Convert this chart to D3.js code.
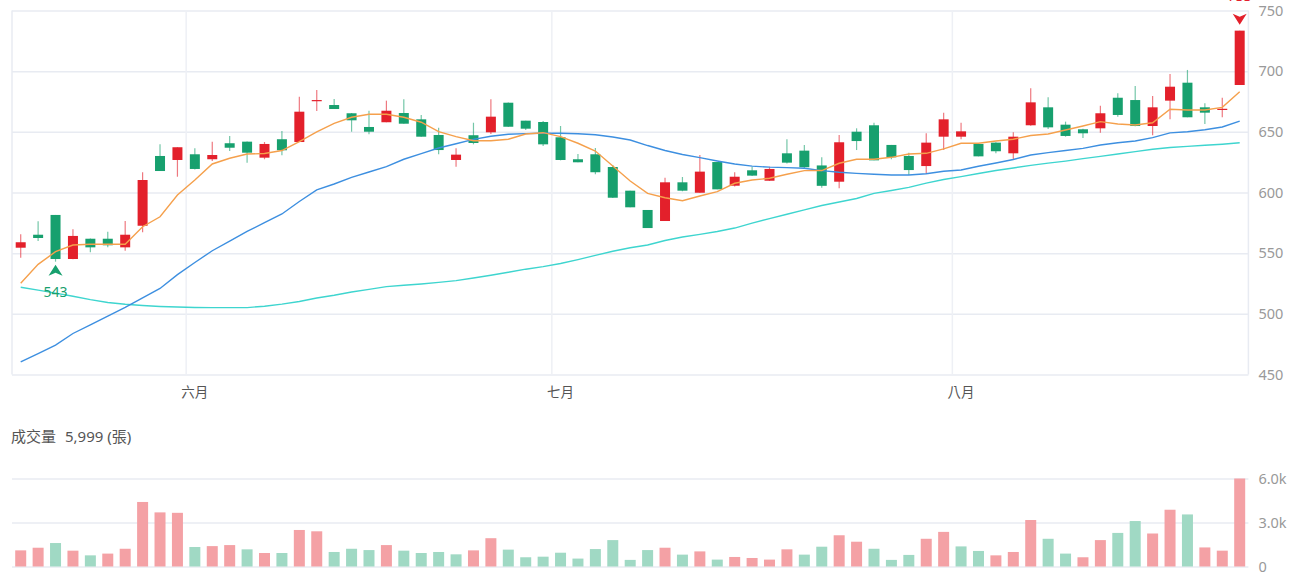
<!DOCTYPE html>
<html>
<head>
<meta charset="utf-8">
<script src="https://cdn.jsdelivr.net/npm/d3@7"></script>
<style>
  body { margin: 0; background: #fff; }
  svg { display: block; }
  text { font-family: "Noto Sans", "Noto Sans CJK TC", sans-serif; }
</style>
</head>
<body>
<div id="chart"></div>
<script>
// Data
const days = d3.range(71)

const open = [554.5,565.2,581.5,545.2,561.9,561.9,554.8,572.6,630.1,626.8,
  631.5,627.4,640.6,641.9,628.7,643.9,641.6,675.5,672.1,665.3,
  654.0,657.9,665.5,660.3,647.4,626.8,647.2,649.6,674.0,659.2,
  658.1,645.5,627.4,631.5,621.0,601.5,585.6,576.5,608.4,599.8,
  625.1,605.6,618.3,609.7,632.3,634.5,622.3,608.9,650.1,655.4,
  639.2,630.1,621.8,646.0,646.0,640.0,641.1,632.3,655.4,670.2,
  655.9,652.1,652.9,678.1,676.2,654.8,675.7,690.5,670.2,668.3,
  688.6]
const high = [565.6,576.3,581.5,569.7,562.0,567.7,576.5,616.7,639.7,637.3,
  636.4,641.9,646.6,642.0,641.6,650.7,679.0,684.5,677.1,665.5,
  667.4,675.7,676.8,663.9,653.4,636.4,657.5,676.8,674.2,659.2,
  659.0,654.8,631.7,636.7,622.7,601.5,585.6,612.2,612.8,630.9,
  625.1,616.7,621.3,621.3,643.9,639.2,629.0,647.4,652.9,657.5,
  639.2,632.8,648.8,665.8,657.5,640.0,641.5,649.6,685.9,678.5,
  658.4,652.5,671.5,681.8,687.8,679.5,697.7,701.0,673.5,678.1,
  733.4]
const low = [546.3,560.0,543.0,545.0,550.7,554.8,552.0,567.2,617.7,613.0,
  619.0,626.0,634.2,624.6,627.4,630.7,641.6,667.2,668.8,650.1,
  648.0,657.9,656.7,646.0,631.5,621.3,639.7,648.2,654.0,651.5,
  638.3,626.5,624.9,615.0,595.5,587.8,570.7,576.5,601.0,599.8,
  602.6,605.0,613.5,609.5,624.0,620.0,604.0,603.5,635.0,626.5,
  627.4,614.4,615.3,635.0,643.9,629.8,632.3,626.8,655.0,652.3,
  646.0,644.9,649.3,662.5,654.5,647.2,660.3,662.0,656.5,662.0,
  688.6]
const close = [559.0,562.5,545.2,564.2,554.8,556.5,565.2,610.3,617.7,637.3,
  619.4,630.9,636.9,632.8,640.0,634.8,666.6,676.2,668.8,659.5,
  650.1,667.4,656.7,646.0,635.0,631.2,640.8,662.5,654.2,652.6,
  639.7,626.8,624.9,616.7,595.7,587.8,570.7,608.4,601.5,617.2,
  602.6,613.0,613.9,619.4,624.6,620.8,605.5,641.4,642.4,626.5,
  629.0,618.5,641.1,660.3,650.4,629.8,634.0,646.0,674.3,653.7,
  646.6,648.8,665.3,663.9,654.8,670.2,687.2,662.0,665.8,669.0,
  733.4]

const ma5 = [525.2,540.8,551.2,556.7,557.3,557.3,557.3,571.8,580.0,597.9,
  610.3,623.5,628.2,631.7,632.1,634.6,642.0,649.9,656.9,662.0,
  664.5,664.5,662.0,657.9,650.1,646.0,642.7,642.7,643.9,648.2,
  649.3,646.0,640.6,634.2,621.8,609.5,599.3,595.7,593.2,597.1,
  600.7,607.6,610.3,611.7,615.0,618.0,618.1,624.1,627.4,627.4,
  629.0,631.7,632.3,635.9,640.6,640.6,642.4,643.9,647.0,648.2,
  651.5,654.8,658.4,656.5,655.6,657.5,668.6,668.0,668.0,670.2,
  683.1]
const ma20 = [460.5,467.3,474.3,483.8,491.0,498.2,505.3,513.2,520.9,532.3,
  542.3,552.0,560.0,567.9,575.1,582.3,592.6,602.1,607.0,612.4,
  616.9,621.3,627.4,632.0,636.7,640.2,643.8,646.4,648.0,648.5,
  648.8,648.8,648.4,647.6,645.7,643.3,638.7,634.6,631.3,628.7,
  626.0,623.5,621.7,620.9,620.5,620.0,618.0,616.7,615.8,615.0,
  614.4,614.4,615.5,617.5,618.5,621.6,624.3,627.2,630.9,632.9,
  634.6,636.4,639.1,641.0,642.4,645.2,649.1,650.1,651.7,654.0,
  658.8]
const ma60 = [521.9,519.5,517.1,514.5,511.7,509.3,507.9,506.9,506.1,505.6,
  505.2,505.1,505.1,505.1,506.3,508.0,510.2,513.1,515.3,518.0,
  520.2,522.4,523.5,524.6,525.9,527.4,529.5,531.8,534.3,536.8,
  538.9,541.5,544.7,548.2,551.6,554.5,556.7,560.4,563.3,565.5,
  567.9,570.7,574.7,578.5,582.1,585.7,589.3,592.2,595.1,599.3,
  601.7,604.2,607.7,610.7,613.1,615.7,618.1,620.2,622.4,624.2,
  625.9,627.9,629.8,631.7,633.7,635.6,637.1,638.0,638.9,639.8,
  641.0]

const volume = [1100,1280,1600,1080,760,880,1210,4400,3690,3660,
  1330,1390,1460,1170,920,920,2490,2400,990,1210,
  1120,1460,1080,920,990,830,1100,1930,1150,630,
  670,940,540,1190,1800,450,1120,1280,810,1030,
  470,650,580,470,1170,810,1350,2130,1690,1210,
  450,790,1890,2360,1370,1060,760,990,3170,1890,
  880,630,1800,2290,3100,2250,3870,3550,1300,1080,
  5999]
// 1 = closed up vs previous day (red), -1 = down (green)
const volDir = [1,1,-1,1,-1,1,1,1,1,1,
  -1,1,1,-1,1,-1,1,1,-1,-1,
  -1,1,-1,-1,-1,-1,1,1,-1,-1,
  -1,-1,-1,-1,-1,-1,-1,1,-1,1,
  -1,1,1,1,1,-1,-1,1,1,-1,
  -1,-1,1,1,-1,-1,1,1,1,-1,
  -1,1,1,-1,-1,1,1,-1,1,1,
  1]

const monthIdx = [10, 31, 54]
const monthLabels = ["六月", "七月", "八月"]
const priceTicks = [450, 500, 550, 600, 650, 700, 750]
const volTicks = [0, 3000, 6000]

// Dimensions
const dimensions = {
  width: 1300,
  height: 580,
  left: 12,
  right: 1248.4,
  priceTop: 10.5,
  priceBottom: 374.5,
  volTop: 478.5,
  volBottom: 566.5,
}

const colors = {
  up: "#e3202b",
  down: "#17a06e",
  volUp: "#f4a1a5",
  volDown: "#a0d9c4",
  ma5: "#f5a04c",
  ma20: "#3d8fe0",
  ma60: "#3ed5cf",
  grid: "#e8ebf2",
  label: "#999",
}

// Canvas
const svg = d3.select("#chart")
  .append("svg")
    .attr("width", dimensions.width)
    .attr("height", dimensions.height)

// Scales
const xScale = d3.scaleBand()
  .domain(days)
  .range([dimensions.left, dimensions.right])
  .padding(0)
const bw = xScale.bandwidth()
const cx = i => xScale(i) + bw / 2

const yScale = d3.scaleLinear()
  .domain([450, 750])
  .range([dimensions.priceBottom, dimensions.priceTop])

const volScale = d3.scaleLinear()
  .domain([0, 6000])
  .range([dimensions.volBottom, dimensions.volTop])

// Price grid + axis
const yAxisGenerator = d3.axisRight(yScale)
  .tickValues(priceTicks)
  .tickSize(-(dimensions.right - dimensions.left))
  .tickPadding(10)
const yAxis = svg.append("g")
  .attr("transform", `translate(${dimensions.right},0)`)
  .call(yAxisGenerator)
yAxis.select(".domain").remove()
yAxis.selectAll("line").attr("stroke", colors.grid).attr("stroke-width", 1.5)
yAxis.selectAll("text")
  .attr("fill", colors.label)
  .style("font-size", "14.5px")

// vertical borders
svg.append("g").selectAll("line")
  .data([dimensions.left, dimensions.right])
  .join("line")
    .attr("x1", d => d).attr("x2", d => d)
    .attr("y1", dimensions.priceTop).attr("y2", dimensions.priceBottom)
    .attr("stroke", colors.grid)
    .attr("stroke-width", 1.5)

// month grid lines + labels
svg.append("g").selectAll("line")
  .data(monthIdx)
  .join("line")
    .attr("x1", d => xScale(d)).attr("x2", d => xScale(d))
    .attr("y1", dimensions.priceTop).attr("y2", dimensions.priceBottom)
    .attr("stroke", "#eef0f5")
    .attr("stroke-width", 1.5)
svg.append("g").selectAll("text")
  .data(monthIdx)
  .join("text")
    .attr("x", d => cx(d))
    .attr("y", 393)
    .attr("text-anchor", "middle")
    .attr("dominant-baseline", "middle")
    .attr("fill", "#555")
    .style("font-size", "13.5px")
    .text((d, i) => monthLabels[i])

// Candles
const candles = svg.append("g").selectAll("g")
  .data(days)
  .join("g")
const candleColor = i => close[i] >= open[i] ? colors.up : colors.down
candles.append("line")
  .attr("x1", i => cx(i)).attr("x2", i => cx(i))
  .attr("y1", i => yScale(high[i]))
  .attr("y2", i => yScale(low[i]))
  .attr("stroke", candleColor)
  .attr("stroke-opacity", 0.6)
  .attr("stroke-width", 1.2)
candles.append("rect")
  .attr("x", i => cx(i) - 5)
  .attr("width", 10)
  .attr("y", i => yScale(Math.max(open[i], close[i])))
  .attr("height", i => Math.max(1.2, Math.abs(yScale(open[i]) - yScale(close[i]))))
  .attr("fill", candleColor)

// Moving averages
const lineGenerator = values => d3.line()
  .x((d, i) => cx(i))
  .y(d => yScale(d))(values)
const maSeries = [
  {values: ma60, color: colors.ma60},
  {values: ma20, color: colors.ma20},
  {values: ma5, color: colors.ma5},
]
svg.append("g").selectAll("path")
  .data(maSeries)
  .join("path")
    .attr("d", d => lineGenerator(d.values))
    .attr("fill", "none")
    .attr("stroke", d => d.color)
    .attr("stroke-width", 1.4)

// High / low markers
const lowI = d3.minIndex(low)
const highI = d3.maxIndex(high)
const lowTip = yScale(low[lowI]) + 3
svg.append("path")
  .attr("d", "M0,0L7,11L0,8L-7,11Z")
  .attr("transform", `translate(${cx(lowI)},${lowTip})`)
  .attr("fill", colors.down)
svg.append("text")
  .attr("x", cx(lowI))
  .attr("y", lowTip + 32)
  .attr("text-anchor", "middle")
  .attr("fill", colors.down)
  .style("font-size", "14px")
  .text(d3.format(",.0f")(low[lowI]))

const highTip = yScale(high[highI]) - 6
svg.append("path")
  .attr("d", "M0,0L7,-11L0,-8L-7,-11Z")
  .attr("transform", `translate(${cx(highI)},${highTip})`)
  .attr("fill", colors.up)
svg.append("text")
  .attr("x", cx(highI))
  .attr("y", highTip - 24)
  .attr("text-anchor", "middle")
  .attr("fill", colors.up)
  .style("font-size", "14px")
  .text(d3.format(",.0f")(high[highI]))

// Volume header
const volHeader = svg.append("text")
  .attr("x", 11)
  .attr("y", 438)
  .attr("dominant-baseline", "middle")
  .attr("fill", "#555")
  .style("font-size", "15px")
volHeader.append("tspan").text("成交量")
volHeader.append("tspan").attr("dx", 9).text(`${d3.format(",")(volume[volume.length - 1])} (張)`)

// Volume grid + axis
const volAxisGenerator = d3.axisRight(volScale)
  .tickValues(volTicks)
  .tickSize(-(dimensions.right - dimensions.left))
  .tickPadding(10)
  .tickFormat(d => d === 0 ? "0" : d3.format(".1f")(d / 1000) + "k")
const volAxis = svg.append("g")
  .attr("transform", `translate(${dimensions.right},0)`)
  .call(volAxisGenerator)
volAxis.select(".domain").remove()
volAxis.selectAll("line").attr("stroke", colors.grid).attr("stroke-width", 1.5)
volAxis.selectAll("text")
  .attr("fill", colors.label)
  .style("font-size", "14.5px")

// Volume bars
svg.append("g").selectAll("rect")
  .data(days)
  .join("rect")
    .attr("x", i => cx(i) - 5.5)
    .attr("width", 11)
    .attr("y", i => volScale(volume[i]))
    .attr("height", i => volScale(0) - volScale(volume[i]))
    .attr("fill", i => volDir[i] > 0 ? colors.volUp : colors.volDown)
</script>
</body>
</html>
